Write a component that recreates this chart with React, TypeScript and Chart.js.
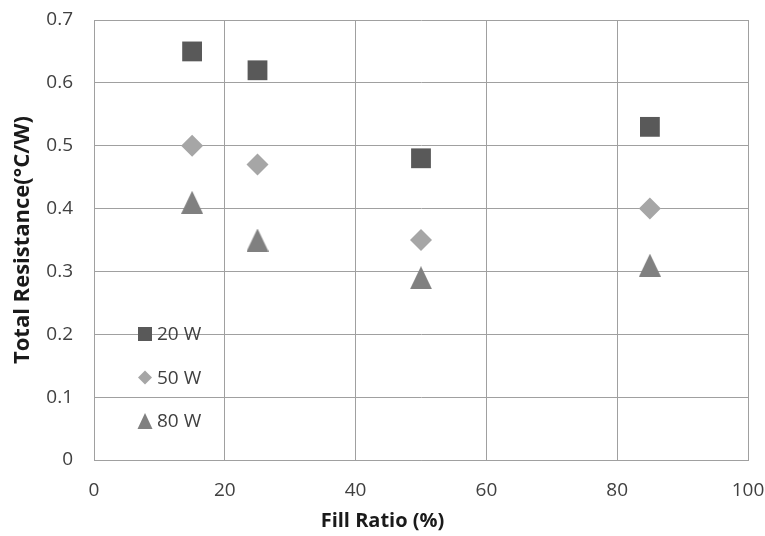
import React, { useEffect, useRef } from "react";
import { Chart, registerables } from "chart.js";

Chart.register(...registerables);

const fillRatio = [15, 25, 50, 85];
const series20W = [0.65, 0.62, 0.48, 0.53];
const series50W = [0.5, 0.47, 0.35, 0.4];
const series80W = [0.41, 0.35, 0.29, 0.31];
const seriesLabels = ["20 W", "50 W", "80 W"];
const seriesColors = ["#595959", "#a6a6a6", "#808080"];
const seriesShapes = ["rect", "rectRot", "triangle"];
const seriesRadius = [14, 11, 12.5];
const xTitle = "Fill Ratio (%)";
const yTitle = "Total Resistance(°C/W)";

const FONT = "'Open Sans', 'Noto Sans', sans-serif";

function drawShape(ctx: CanvasRenderingContext2D, shape: string, x: number, y: number, w: number, h: number) {
  ctx.beginPath();
  if (shape === "rect") {
    ctx.rect(x - w / 2, y - h / 2, w, h);
  } else if (shape === "rectRot") {
    ctx.moveTo(x, y - h / 2);
    ctx.lineTo(x + w / 2, y);
    ctx.lineTo(x, y + h / 2);
    ctx.lineTo(x - w / 2, y);
    ctx.closePath();
  } else {
    ctx.moveTo(x, y - h / 2);
    ctx.lineTo(x + w / 2, y + h / 2);
    ctx.lineTo(x - w / 2, y + h / 2);
    ctx.closePath();
  }
  ctx.fill();
}

function triangleImage(color: string): HTMLCanvasElement {
  const c = document.createElement("canvas");
  c.width = 22;
  c.height = 23;
  const g = c.getContext("2d")!;
  g.fillStyle = color;
  drawShape(g, "triangle", 11, 11.5, 22, 23);
  return c;
}

const insideLegend = {
  id: "insideLegend",
  afterDatasetsDraw(chart: any) {
    const { ctx, chartArea, width, height } = chart;
    ctx.save();
    ctx.font = `19px ${FONT}`;
    ctx.textBaseline = "middle";
    ctx.textAlign = "left";
    chart.data.datasets.forEach((ds: any, i: number) => {
      const y = chartArea.bottom - 126 + i * 43.5;
      const x = chartArea.left + 51;
      ctx.fillStyle = ds.backgroundColor;
      if (seriesShapes[i] === "triangle") drawShape(ctx, "triangle", x, y, 15, 16);
      else drawShape(ctx, seriesShapes[i], x, y, 14, 14);
      ctx.fillStyle = "#404040";
      ctx.fillText(ds.label, x + 12, y + 1);
    });
    // x-axis title, centred on the whole chart like the original
    ctx.font = `bold 20px ${FONT}`;
    ctx.fillStyle = "#1a1a1a";
    ctx.textAlign = "center";
    ctx.fillText(xTitle, width / 2, height - 15);
    ctx.restore();
  },
};

export default function App() {
  const ref = useRef<HTMLCanvasElement>(null);
  useEffect(() => {
    if (!ref.current) return;
    const all = [series20W, series50W, series80W];
    const chart = new Chart(ref.current, {
      type: "scatter",
      data: {
        datasets: all.map((vals, i) => ({
          label: seriesLabels[i],
          data: fillRatio.map((x, j) => ({ x, y: vals[j] })),
          backgroundColor: seriesColors[i],
          borderColor: seriesColors[i],
          borderWidth: 0,
          pointStyle: (seriesShapes[i] === "triangle" ? triangleImage(seriesColors[i]) : seriesShapes[i]) as any,
          pointRadius: seriesRadius[i],
          pointHoverRadius: seriesRadius[i],
        })),
      },
      options: {
        responsive: false,
        animation: false,
        layout: { autoPadding: false, padding: { top: 20, right: 17, left: 0, bottom: 0 } },
        plugins: { legend: { display: false }, tooltip: { enabled: false } },
        scales: {
          x: {
            type: "linear",
            min: 0,
            max: 100,
            ticks: { stepSize: 20, padding: 19, color: "#404040", font: { family: FONT, size: 19 } },
            grid: { color: "#a0a0a0", drawTicks: false, lineWidth: 1 },
            border: { color: "#a0a0a0" },
            title: { display: false, text: xTitle },
            afterFit(scale: any) {
              scale.height = 76;
              scale.paddingLeft = 0;
              scale.paddingRight = 0;
            },
          },
          y: {
            min: 0,
            max: 0.7,
            ticks: {
              stepSize: 0.1,
              padding: 21,
              color: "#404040",
              font: { family: FONT, size: 19 },
              callback: (v: any) => (Math.round(Number(v) * 10) / 10).toString(),
            },
            grid: { color: "#a0a0a0", drawTicks: false, lineWidth: 1 },
            border: { color: "#a0a0a0" },
            title: {
              display: true,
              text: yTitle,
              color: "#1a1a1a",
              font: { family: FONT, size: 22, weight: "bold" },
              padding: { top: 10, bottom: 0 },
            },
            afterFit(scale: any) {
              scale.width = 94;
              scale.paddingTop = 0;
              scale.paddingBottom = 0;
            },
          },
        },
      },
      plugins: [insideLegend],
    });
    return () => chart.destroy();
  }, []);
  return (
    <div style={{ position: "fixed", left: 0, top: 0, width: 765, height: 536, background: "#fff" }}>
      <canvas ref={ref} width={765} height={536} style={{ display: "block" }} />
    </div>
  );
}
